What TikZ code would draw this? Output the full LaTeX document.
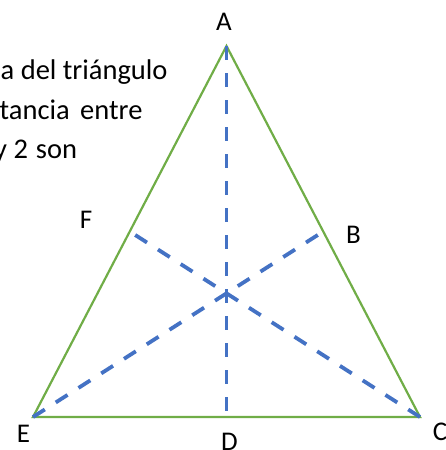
\documentclass[tikz,border=0pt]{standalone}
\usepackage{fontspec}
\setmainfont{Carlito}
\usetikzlibrary{calc}
\definecolor{ladoverde}{HTML}{70AD47}
\definecolor{medazul}{HTML}{4472C4}
\tikzset{
  lado/.style={ladoverde,line width=2.2pt},
  mediana/.style={medazul,line width=3.8pt,dash pattern=on 14pt off 13pt},
  etiq/.style={anchor=base,inner sep=0pt,font=\fontsize{27}{32}\selectfont},
  texto/.style={anchor=base west,inner sep=0pt,font=\fontsize{28.5}{34}\selectfont}
}

\begin{document}
\begin{tikzpicture}[x=1pt,y=-1pt]
    \useasboundingbox (0,0) rectangle (445,450);
    \clip (0,0) rectangle (445,450);
    % vertices and midpoints
    \coordinate (A) at (226.5,46);
    \coordinate (E) at (33,417);
    \coordinate (C) at (420,417);
    \coordinate (D) at ($(E)!0.5!(C)$);
    \coordinate (F) at ($(A)!0.5!(E)$);
    \coordinate (B) at ($(A)!0.5!(C)$);
    % text
    \node[texto] (t1) at (0.5,79) {a del triángulo};
    \node[texto] (t2) at (-0.5,119.5) {tancia\hspace{10.5pt}entre};
    \node[texto] (t3) at (-6,158.5) {y 2\hspace{8pt}son};
    % triangle and medians
    \draw[lado] (A)--(E)--(C)--cycle;
    \draw[mediana] (A)--($(D)+(0,6)$);
    \draw[mediana] (E)--(B);
    \draw[mediana] (C)--(F);
    % labels
    \node[etiq] (lA) at (224,30) {A};
    \node[etiq] (lB) at (353.5,243) {B};
    \node[etiq] (lC) at (440,440) {C};
    \node[etiq] (lD) at (229.5,450) {D};
    \node[etiq] (lE) at (23.5,442) {E};
    \node[etiq] (lF) at (86,228) {F};
  \end{tikzpicture}
\end{document}
